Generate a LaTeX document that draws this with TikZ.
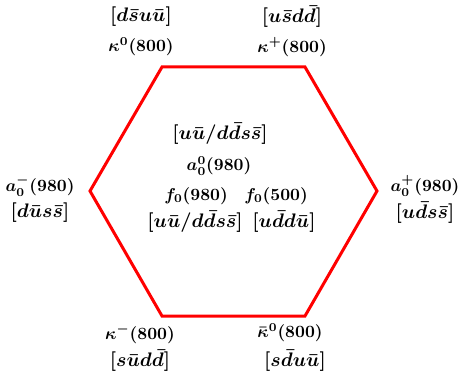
\documentclass[tikz,border=0pt]{standalone}
\usepackage{amsmath}

\tikzset{
	meson/.style={font=\boldmath, scale=0.86},
	quarks/.style={font=\boldmath, scale=0.98}
}

\begin{document}
\begin{tikzpicture}[x=0.5pt,y=-0.5pt]
	% frame of the picture
	\useasboundingbox (0,0) rectangle (459,374);
	% the hexagon
	\coordinate (k0) at (162,67);
	\coordinate (kp) at (305,67);
	\coordinate (ap) at (377,191);
	\coordinate (kb) at (305,316);
	\coordinate (km) at (162,316);
	\coordinate (am) at (90,191);
	\draw[line width=1.5pt, color=red] (k0) -- (kp) -- (ap) -- (kb) -- (km) -- (am) -- cycle;
	% top corners
	\node[quarks] (qk0) at (141,17) {$[d\bar{s}u\bar{u}]$};
	\node[meson] (nk0) at (141,47) {$\kappa^0(800)$};
	\node[quarks] (qkp) at (292,17) {$[u\bar{s}d\bar{d}]$};
	\node[meson] (nkp) at (292,47) {$\kappa^+(800)$};
	% side corners
	\node[meson] (nam) at (40,186) {$a_0^-(980)$};
	\node[quarks] (qam) at (40,213) {$[d\bar{u}s\bar{s}]$};
	\node[meson] (nap) at (425,186) {$a_0^+(980)$};
	\node[quarks] (qap) at (425,213) {$[u\bar{d}s\bar{s}]$};
	% bottom corners
	\node[meson] (nkm) at (140,334) {$\kappa^-(800)$};
	\node[quarks] (qkm) at (140,361) {$[s\bar{u}d\bar{d}]$};
	\node[meson] (nkb) at (290,333) {$\bar{\kappa}^0(800)$};
	\node[quarks] (qkb) at (295,361) {$[s\bar{d}u\bar{u}]$};
	% centre
	\node[quarks] (qa0) at (220,134) {$[u\bar{u}/d\bar{d}s\bar{s}]$};
	\node[meson] (na0) at (219,166) {$a_0^0(980)$};
	\node[meson] (nf9) at (196,196) {$f_0(980)$};
	\node[meson] (nf5) at (276,196) {$f_0(500)$};
	\node[quarks] (qf9) at (195,222) {$[u\bar{u}/d\bar{d}s\bar{s}]$};
	\node[quarks] (qf5) at (284,222) {$[u\bar{d}d\bar{u}]$};
\end{tikzpicture}
\end{document}
